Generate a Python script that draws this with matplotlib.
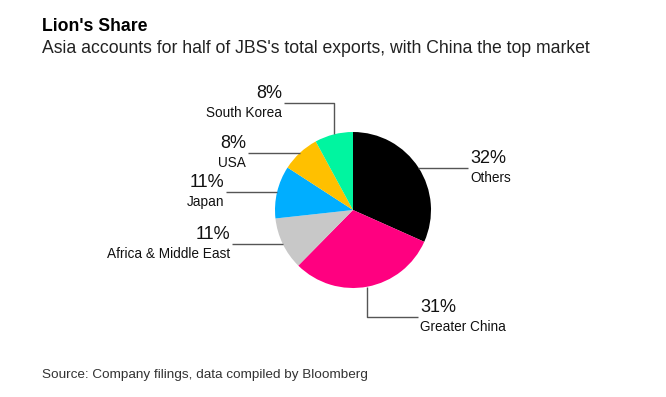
import numpy as np
import matplotlib
matplotlib.use("Agg")
import matplotlib.pyplot as plt

# data (clockwise from 12 o'clock)
regions = ["Others", "Greater China", "Africa & Middle East", "Japan", "USA", "South Korea"]
shares = [32, 31, 11, 11, 8, 8]
colors = ["#000000", "#FF0080", "#C8C8C8", "#00AEFF", "#FFC000", "#00F5A0"]

W, H = 666, 397
plt.rcParams["font.family"] = ["Liberation Sans", "DejaVu Sans"]

fig = plt.figure(figsize=(W / 100, H / 100), dpi=100)
ax = fig.add_axes([0, 0, 1, 1])

CX, CY, R = 353, 210, 78
wedges, _ = ax.pie(shares, colors=colors, startangle=-90, counterclock=True,
                   center=(CX, CY), radius=R, wedgeprops=dict(linewidth=0))
ax.set_xlim(0, W)
ax.set_ylim(H, 0)
ax.set_aspect("auto")
ax.axis("off")

# leader routing: (elbow y or None, end x, side)
routes = {
    "Others": (None, 468, "right"),
    "Greater China": (317, 418, "right"),
    "Africa & Middle East": (None, 232, "left"),
    "Japan": (None, 226, "left"),
    "USA": (None, 248, "left"),
    "South Korea": (103, 284, "left"),
}
lc = "#555555"
for w, name, val in zip(wedges, regions, shares):
    mid = np.deg2rad((w.theta1 + w.theta2) / 2)
    x0, y0 = CX + R * np.cos(mid), CY + R * np.sin(mid)
    ey, ex, side = routes[name]
    if ey is None:
        ey = y0
        ax.plot([x0, ex], [y0, ey], color=lc, lw=1, solid_capstyle="butt")
    else:
        ax.plot([x0, x0, ex], [y0, ey, ey], color=lc, lw=1, solid_capstyle="butt")
    if side == "left":
        tx, ha = ex - 2, "right"
    else:
        tx, ha = ex + 2, "left"
    ax.text(tx, ey - 1, f"{val}%", fontsize=13, ha=ha, va="bottom", color="#111111")
    ax.text(tx, ey + 3, name, fontsize=9.8, ha=ha, va="top", color="#111111")

fig.text(42 / W, 1 - 31 / H, "Lion's Share", fontsize=12.7, fontweight="bold",
         ha="left", va="baseline", color="#000000")
fig.text(42 / W, 1 - 53 / H,
         "Asia accounts for half of JBS's total exports, with China the top market",
         fontsize=12.7, ha="left", va="baseline", color="#222222")
fig.text(42 / W, 1 - 378 / H, "Source: Company filings, data compiled by Bloomberg",
         fontsize=9.7, ha="left", va="baseline", color="#333333")

fig.savefig("out.png", dpi=100, facecolor="white")
